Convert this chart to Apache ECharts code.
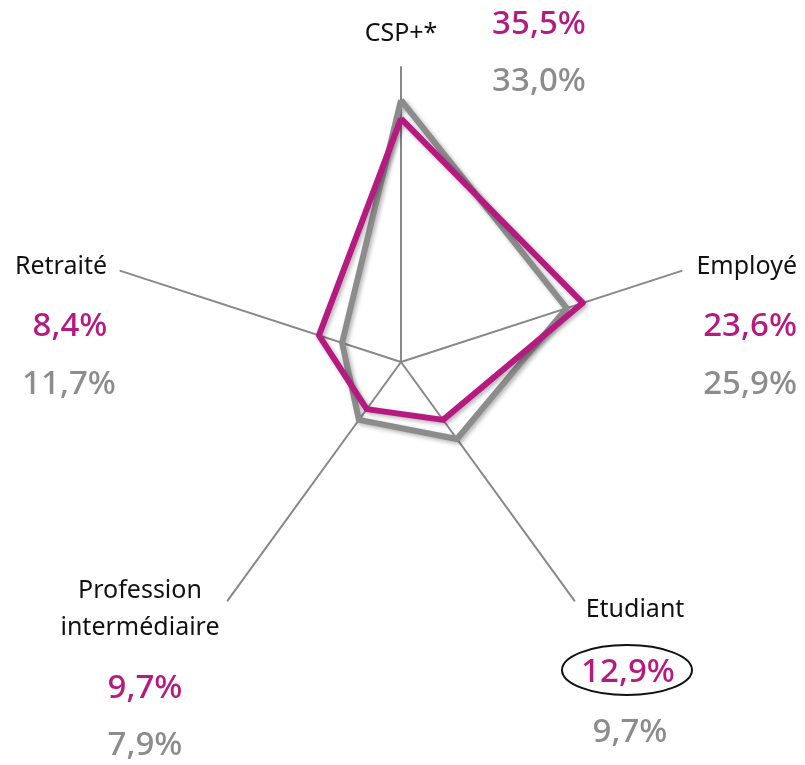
<!DOCTYPE html>
<html>
<head>
<meta charset="utf-8">
<script src="https://cdn.jsdelivr.net/npm/echarts@6/dist/echarts.min.js"></script>
<style>
  html, body { margin: 0; padding: 0; background: #fff; }
  #chart { width: 805px; height: 765px; }
</style>
</head>
<body>
<div id="chart"></div>
<script>
// axes, clockwise from the top
const categories = ['CSP+*', 'Employé', 'Etudiant', 'Profession\nintermédiaire', 'Retraité'];
// first figure under each axis name (magenta text) - in the picture this is the grey outline
const valuesA = [35.5, 23.6, 12.9, 9.7, 8.4];
// second figure (grey text) - drawn as the magenta outline
const valuesB = [33.0, 25.9, 9.7, 7.9, 11.7];

const magenta = '#b51a80';
const grey = '#8c8c8c';
const font = '"Noto Sans", sans-serif';

const fmt = v => v.toFixed(1).replace('.', ',') + '%';
// echarts lays radar axes out counter-clockwise, so flip the order after the first one
const ccw = arr => [arr[0]].concat(arr.slice(1).reverse());

// where each axis label block sits: name, figure A, figure B
const labelPos = [
  { align: 'center', name: [401, 34], a: [539, 25], b: [539, 82] },
  { align: 'right', name: [797, 267], a: [797, 327], b: [797, 385] },
  { align: 'center', name: [635, 610], a: [628, 673], b: [630, 733] },
  { align: 'center', name: [140, 609], a: [145, 689], b: [145, 746] },
  { align: 'center', name: [61, 267], a: [70, 327], b: [69, 385] }
];

const graphic = [];
categories.forEach((name, i) => {
  const p = labelPos[i];
  graphic.push({
    type: 'text', x: p.name[0], y: p.name[1],
    style: { text: name, fill: '#111', font: '25px ' + font, align: p.align, verticalAlign: 'middle', lineHeight: 37 }
  });
  graphic.push({
    type: 'text', x: p.a[0], y: p.a[1],
    style: { text: fmt(valuesA[i]), fill: magenta, font: '500 33px ' + font, align: p.align, verticalAlign: 'middle' }
  });
  graphic.push({
    type: 'text', x: p.b[0], y: p.b[1],
    style: { text: fmt(valuesB[i]), fill: grey, font: '500 33px ' + font, align: p.align, verticalAlign: 'middle' }
  });
});
// highlight round the student figure
graphic.push({
  type: 'ellipse',
  shape: { cx: 627, cy: 670, rx: 65, ry: 25 },
  style: { fill: 'none', stroke: '#111', lineWidth: 2 }
});

const chart = echarts.init(document.getElementById('chart'));

const shadow = { shadowColor: 'rgba(0,0,0,0.3)', shadowBlur: 4, shadowOffsetX: 2, shadowOffsetY: 2 };

chart.setOption({
  animation: false,
  radar: {
    center: [401, 362],
    radius: 295,
    startAngle: 90,
    shape: 'polygon',
    indicator: ccw(categories).map(name => ({ name, max: 40 })),
    axisName: { show: false },
    splitNumber: 4,
    splitLine: { show: false },
    splitArea: { show: false },
    axisTick: { show: false },
    axisLine: { lineStyle: { color: '#888', width: 2 } }
  },
  graphic,
  series: [{
    type: 'radar',
    symbol: 'none',
    data: [
      { value: ccw(valuesA), lineStyle: Object.assign({ color: grey, width: 6 }, shadow) },
      { value: ccw(valuesB), lineStyle: Object.assign({ color: magenta, width: 6 }, shadow) }
    ]
  }]
});
</script>
</body>
</html>
